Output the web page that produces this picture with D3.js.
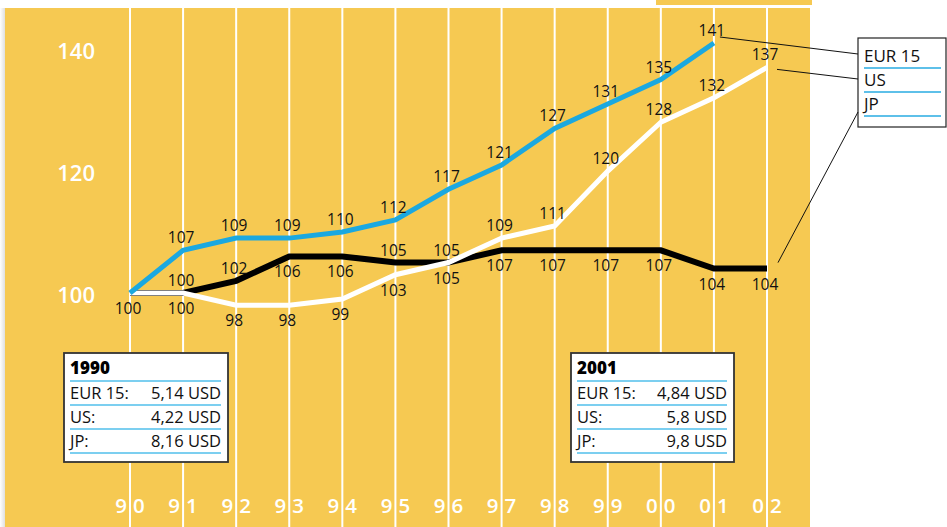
<!DOCTYPE html>
<html><head><meta charset="utf-8">
<script src="https://cdn.jsdelivr.net/npm/d3@7"></script>
<style>
body{margin:0;background:#fff;}
svg{display:block;font-family:"Open Sans",sans-serif;}
</style></head>
<body>
<svg id="c" width="947" height="527"></svg>
<script>
// ---- data ----
const years = [1990,1991,1992,1993,1994,1995,1996,1997,1998,1999,2000,2001,2002];
const yearLabels = ["90","91","92","93","94","95","96","97","98","99","00","01","02"];
const yTicks = [100,120,140];
const seriesNames = ["EUR 15","US","JP"];
const eurValues = [100,107,109,109,110,112,117,121,127,131,135,141,null];
const usValues  = [100,100,98,98,99,103,105,109,111,120,128,132,137];
const jpValues  = [100,100,102,106,106,105,105,107,107,107,107,104,104];
// label side for each value: a = above, b = below, null = no label
const eurSides = [null,"a","a","a","a","a","a","a","a","a","a","a",null];
const usSides  = ["b","b","b","b","b","b","b","a","a","a","a","a","a"];
const jpSides  = [null,"a","a","b","b","a","a","b","b","b","b","b","b"];
const boxYears = ["1990","2001"];
const boxRowNames = ["EUR 15:","US:","JP:"];
const eurUsd = ["5,14 USD","4,84 USD"];
const usUsd  = ["4,22 USD","5,8 USD"];
const jpUsd  = ["8,16 USD","9,8 USD"];

const YELLOW = "#f6c952";
const BLUE = "#1ba8e0";
const LIGHTBLUE = "#7ccff0";

const svg = d3.select("#c");
const defs = svg.append("defs");
const g = defs.append("linearGradient").attr("id","sh").attr("x1",0).attr("x2",1);
g.append("stop").attr("offset",0).attr("stop-color","#fff");
g.append("stop").attr("offset",1).attr("stop-color","#d9d9d9");

// background
svg.append("rect").attr("x",0).attr("y",8).attr("width",6).attr("height",519).attr("fill","url(#sh)");
svg.append("rect").attr("x",5).attr("y",8).attr("width",805).attr("height",519).attr("fill",YELLOW);
svg.append("rect").attr("x",656).attr("y",0).attr("width",156).attr("height",5).attr("fill",YELLOW);

const x = d3.scaleLinear().domain([1990,2002]).range([130,767]);
const y = d3.scaleLinear().domain([100,141]).range([293,43]);

// vertical grid lines
svg.append("g").selectAll("line").data(years).join("line")
  .attr("x1",d=>x(d)).attr("x2",d=>x(d)).attr("y1",8).attr("y2",527)
  .attr("stroke","#fff").attr("stroke-width",2);

// y axis
const ya = svg.append("g").attr("transform","translate(95,0)")
  .call(d3.axisLeft(y).tickValues(yTicks).tickSize(0).tickPadding(0));
ya.select(".domain").remove();
ya.selectAll("text").attr("fill","#fff").attr("font-size",22).attr("font-weight",600)
  .attr("font-family","'Open Sans',sans-serif").attr("dy","0.42em").attr("x",0);

// x labels split around grid line
const xl = svg.append("g");
yearLabels.forEach((lab,i)=>{
  xl.append("text").attr("x",x(years[i])-3).attr("y",513).attr("text-anchor","end")
    .attr("fill","#fff").attr("font-size",20.5).attr("font-weight",600).text(lab[0]);
  xl.append("text").attr("x",x(years[i])+3).attr("y",513).attr("text-anchor","start")
    .attr("fill","#fff").attr("font-size",20.5).attr("font-weight",600).text(lab[1]);
});

// lines
const line = d3.line().defined(d=>d.v!=null).x(d=>x(d.yr)).y(d=>y(d.v));
function mk(vals){return vals.map((v,i)=>({yr:years[i],v}));}
const series = [
  {vals:jpValues, sides:jpSides, color:"#000", w:6},
  {vals:usValues, sides:usSides, color:"#fff", w:5},
  {vals:eurValues, sides:eurSides, color:BLUE, w:5}
];
series.forEach(s=>{
  svg.append("path").datum(mk(s.vals)).attr("d",line).attr("fill","none")
    .attr("stroke",s.color).attr("stroke-width",s.w).attr("stroke-linejoin","miter");
});
// data labels
series.forEach(s=>{
  svg.append("g").selectAll("text").data(mk(s.vals).map((d,i)=>({...d,side:s.sides[i]})).filter(d=>d.v!=null && d.side))
    .join("text")
    .attr("x",d=>x(d.yr)-2)
    .attr("y",d=>d.side==="a"? y(d.v)-7 : y(d.v)+21)
    .attr("text-anchor","middle").attr("font-size",15.5).attr("fill","#111")
    .text(d=>d.v);
});

// legend
const lg = svg.append("g");
lg.append("rect").attr("x",858).attr("y",38).attr("width",88).attr("height",89)
  .attr("fill","#fff").attr("stroke","#222").attr("stroke-width",1.2);
seriesNames.forEach((n,i)=>{
  lg.append("text").attr("x",864).attr("y",62+i*24).attr("font-size",17).attr("fill","#111").text(n);
  lg.append("line").attr("x1",864).attr("x2",941).attr("y1",68+i*24).attr("y2",68+i*24)
    .attr("stroke","#29abe2").attr("stroke-width",1.5);
});
// leader lines
const lastEur = 11, lastUs = 12, lastJp = 12;
const leaders = [
  [x(years[lastEur])+6, y(eurValues[lastEur])-6, 858, 54],
  [x(years[lastUs])+10, y(usValues[lastUs])+2, 858, 79],
  [x(years[lastJp])+11, y(jpValues[lastJp])-6, 858, 112]
];
svg.append("g").selectAll("line").data(leaders).join("line")
  .attr("x1",d=>d[0]).attr("y1",d=>d[1]).attr("x2",d=>d[2]).attr("y2",d=>d[3])
  .attr("stroke","#111").attr("stroke-width",1);

// info boxes
const boxX = [64,571];
boxYears.forEach((yr,k)=>{
  const bx = boxX[k], bw = k===0?164:163;
  const b = svg.append("g");
  b.append("rect").attr("x",bx).attr("y",353).attr("width",bw).attr("height",109)
    .attr("fill","#fff").attr("stroke","#333").attr("stroke-width",1.8);
  const l = bx+6, r = bx+bw-7;
  b.append("text").attr("x",l).attr("y",374).attr("font-size",17).attr("font-weight",800).attr("fill","#000").text(yr);
  const vals = [eurUsd[k],usUsd[k],jpUsd[k]];
  [381,405,429,453].forEach(yy=>{
    b.append("line").attr("x1",l).attr("x2",r).attr("y1",yy).attr("y2",yy)
      .attr("stroke",LIGHTBLUE).attr("stroke-width",2.2);
  });
  boxRowNames.forEach((n,i)=>{
    b.append("text").attr("x",l).attr("y",399+i*24).attr("font-size",16.5).attr("fill","#111").text(n);
    b.append("text").attr("x",r).attr("y",399+i*24).attr("font-size",16.5).attr("fill","#111")
      .attr("text-anchor","end").text(vals[i]);
  });
});
</script>
</body></html>
